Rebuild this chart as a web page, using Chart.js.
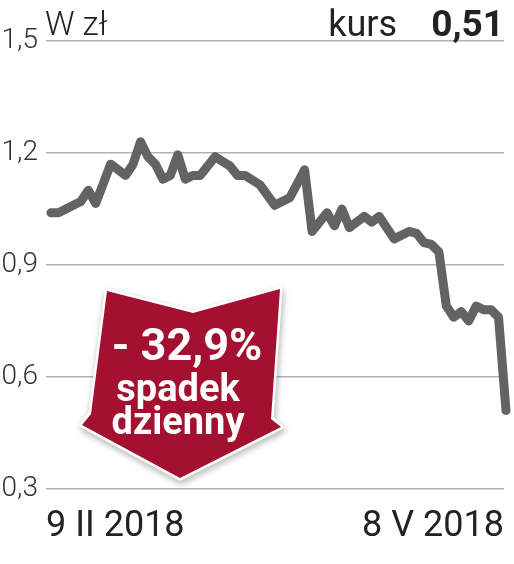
<!DOCTYPE html>
<html>
<head>
<meta charset="utf-8">
<script src="https://cdn.jsdelivr.net/npm/chart.js@4.4.1/dist/chart.umd.min.js"></script>
<style>
  body { margin: 0; background: #fff; }
  #wrap { width: 514px; height: 564px; }
</style>
</head>
<body>
<div id="wrap"><canvas id="kurs_chart" width="514" height="564"></canvas></div>
<script>
// dane: numer sesji od 9 II 2018 i kurs w zł
var days   = [0, 1, 4, 5, 6, 8, 10, 11, 12, 13, 14, 15, 16, 17, 18, 19, 20, 22, 24, 25, 26, 28, 30, 32, 34,
              35, 37, 38, 39, 40, 42, 43, 44, 46, 48, 49, 50, 51, 52, 53, 54, 55, 56, 57, 58, 59, 60, 61];
var prices = [1.04, 1.04, 1.07, 1.10, 1.065, 1.17, 1.14, 1.17, 1.23, 1.19, 1.17, 1.13, 1.14, 1.195, 1.13, 1.14, 1.14, 1.19, 1.165, 1.14, 1.14, 1.115, 1.06, 1.08, 1.155,
              0.99, 1.04, 1.005, 1.05, 1.00, 1.03, 1.015, 1.03, 0.97, 0.99, 0.985, 0.96, 0.955, 0.935, 0.79, 0.76, 0.775, 0.75, 0.79, 0.78, 0.78, 0.76, 0.51];
var yTicks = [0.3, 0.6, 0.9, 1.2, 1.5];
var dateLabels = ['9 II 2018', '8 V 2018'];
var lastPrice  = '0,51';
var badgeLines = ['- 32,9%', 'spadek', 'dzienny'];

var points = days.map(function (d, i) { return { x: d, y: prices[i] }; });

// napisy w naglowku + czerwona strzalka
var extras = {
    id: 'extras',
    afterDraw: function (chart) {
        var ctx = chart.ctx;
        ctx.save();
        ctx.fillStyle = '#222';
        ctx.textBaseline = 'alphabetic';
        ctx.textAlign = 'left';
        ctx.font = '300 33px Roboto';
        ctx.fillText('W zł', 45, 35);
        ctx.textAlign = 'right';
        ctx.font = '400 36px Roboto';
        ctx.fillText('kurs', 397, 36);
        ctx.font = '700 37px Roboto';
        ctx.fillText(lastPrice, 504, 36);
        ctx.restore();

        // strzalka
        ctx.save();
        ctx.beginPath();
        ctx.moveTo(107, 291);
        ctx.lineTo(193, 313);
        ctx.lineTo(280, 289);
        ctx.lineTo(271, 419);
        ctx.lineTo(281, 427);
        ctx.lineTo(180, 478);
        ctx.lineTo(82, 425);
        ctx.lineTo(91, 414);
        ctx.closePath();
        ctx.shadowColor = 'rgba(0,0,0,0.35)';
        ctx.shadowBlur = 6;
        ctx.shadowOffsetX = 1;
        ctx.shadowOffsetY = 3;
        ctx.lineJoin = 'round';
        ctx.lineWidth = 5;
        ctx.strokeStyle = '#ffffff';
        ctx.stroke();
        ctx.shadowColor = 'transparent';
        ctx.fillStyle = '#a4102f';
        ctx.fill();
        ctx.fillStyle = '#ffffff';
        ctx.textAlign = 'center';
        ctx.font = '700 45px Roboto';
        ctx.fillText(badgeLines[0], 187, 360);
        ctx.font = '700 38px Roboto';
        ctx.fillText(badgeLines[1], 178, 401);
        ctx.fillText(badgeLines[2], 178, 434);
        ctx.restore();
    }
};

const ctx = document.getElementById('kurs_chart');
const kursChart = new Chart(ctx, {
    type: 'line',
    data: {
        datasets: [{
            data: points,
            borderColor: '#636363',
            borderWidth: 9,
            borderJoinStyle: 'round',
            borderCapStyle: 'round',
            pointRadius: 0,
            tension: 0,
            fill: false,
            clip: false
        }]
    },
    options: {
        responsive: false,
        animation: false,
        events: [],
        layout: { padding: { top: 41, right: 10, left: 0, bottom: 0 } },
        plugins: { legend: { display: false }, tooltip: { enabled: false } },
        scales: {
            x: {
                type: 'linear',
                min: -0.67,
                max: 60.73,
                // daty tylko na krancach osi
                afterBuildTicks: function (scale) {
                    scale.ticks = [{ value: scale.min }, { value: scale.max }];
                },
                afterFit: function (scale) {
                    scale.height = 75;
                    scale.paddingLeft = 0;
                    scale.paddingRight = 0;
                },
                grid: { display: false, drawTicks: false },
                border: { display: false },
                ticks: {
                    align: 'inner',
                    maxRotation: 0,
                    autoSkip: false,
                    padding: 16,
                    color: '#222',
                    font: { family: 'Roboto', size: 36, weight: '400' },
                    callback: function (v, i) { return dateLabels[i]; }
                }
            },
            y: {
                min: 0.3,
                max: 1.5,
                afterBuildTicks: function (scale) {
                    scale.ticks = yTicks.map(function (v) { return { value: v }; });
                },
                afterFit: function (scale) {
                    scale.width = 46;
                    scale.paddingTop = 0;
                    scale.paddingBottom = 0;
                },
                grid: { color: '#b3b3b3', lineWidth: 1.5, drawTicks: false },
                border: { display: false },
                ticks: {
                    padding: 8,
                    color: '#333',
                    font: { family: 'Roboto', size: 28, weight: '300' },
                    callback: function (v) { return v.toFixed(1).replace('.', ','); }
                }
            }
        }
    },
    plugins: [extras]
});
</script>
</body>
</html>
